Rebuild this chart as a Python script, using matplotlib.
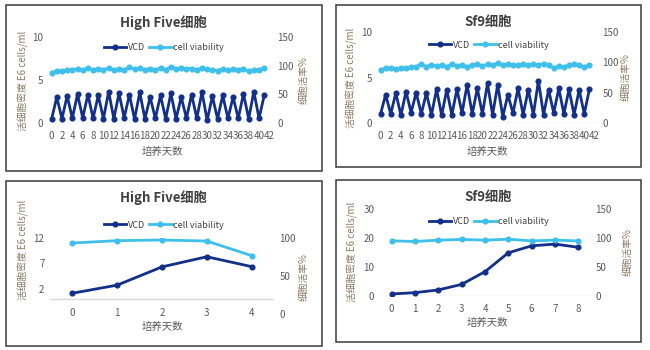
import matplotlib.pyplot as plt
from matplotlib.patches import Rectangle
from matplotlib.lines import Line2D

plt.rcParams['font.family'] = ['Noto Sans CJK SC', 'DejaVu Sans']

W, H = 650, 350

# --- data ---
days_long = list(range(42))
hf_vcd_long = [0.46, 3.0, 0.5, 3.15, 0.55, 3.35, 0.6, 3.3, 0.55, 3.2, 0.5, 3.65, 0.5, 3.45,
               0.6, 3.3, 0.46, 3.55, 0.5, 3.0, 0.55, 3.2, 0.5, 3.45, 0.5, 3.0, 0.55, 3.3,
               0.55, 3.6, 0.3, 3.1, 0.5, 3.2, 0.55, 3.0, 0.55, 3.4, 0.5, 3.65, 0.55, 3.2]
hf_via_long = [88, 91, 90, 93, 92, 95, 92, 96, 93, 95, 93, 96, 92, 95, 93, 97, 94, 96, 93, 95, 93,
               96, 93, 98, 95, 96, 95, 95, 93, 96, 94, 93, 91, 95, 92, 94, 93, 95, 90, 92, 93, 96]
sf_vcd_long = [1.0, 3.1, 1.0, 3.3, 0.85, 3.45, 1.15, 3.35, 1.0, 3.3, 0.9, 3.7, 0.85, 3.65,
               0.9, 3.7, 1.1, 4.2, 1.0, 3.8, 1.0, 4.35, 0.9, 4.2, 0.7, 3.1, 1.1, 3.8,
               0.9, 3.65, 0.9, 4.65, 0.9, 3.65, 1.1, 3.8, 1.0, 3.7, 0.9, 3.65, 1.0, 3.7]
sf_via_long = [88, 90, 91, 89, 90, 91, 92, 93, 97, 93, 96, 94, 96, 93, 97, 94, 96, 93, 95, 97, 94,
               97, 95, 99, 95, 97, 96, 95, 97, 96, 97, 96, 98, 95, 91, 94, 92, 96, 97, 95, 93, 95]

hf_days = [0, 1, 2, 3, 4]
hf_vcd = [1.1, 2.7, 6.3, 8.3, 6.35]
hf_via = [93.4, 96.5, 97.4, 96.0, 76.8]

sf_days = [0, 1, 2, 3, 4, 5, 6, 7, 8]
sf_vcd = [0.7, 1.15, 2.1, 4.0, 8.4, 14.9, 17.3, 17.9, 16.8]
sf_via = [95.1, 94.0, 96.3, 97.5, 96.3, 98.0, 95.0, 96.3, 95.0]

VCD_C = '#12308a'
VIA_C = '#3fc0ea'
TICK_C = '#595959'
YLAB_C = '#8c7a66'


def frac(x0, y0, x1, y1):
    return [x0 / W, 1 - y1 / H, (x1 - x0) / W, (y1 - y0) / H]


def ftext(x, y, s, **kw):
    fig.text(x / W, 1 - y / H, s, ha='center', va='center', **kw)


def panel(box, area, x, vcd, via, xlim, xticks, ylim, yticks, rlim, rticks,
          title, title_xy, leg_xy, ylab_xy, rlab_xy, xlab_xy, xpad=6):
    fig.patches.append(Rectangle((box[0] / W, 1 - box[3] / H),
                                 (box[2] - box[0]) / W, (box[3] - box[1]) / H,
                                 transform=fig.transFigure, fill=False,
                                 ec='#3a3a3a', lw=1.1))
    ax = fig.add_axes(frac(*area))
    bx = ax.twinx()
    ax.plot(x, vcd, color=VCD_C, lw=2, marker='o', ms=3.4)
    bx.plot(x, via, color=VIA_C, lw=2, marker='o', ms=3.4)
    ax.axhline(0, color='#d9d9d9', lw=1, zorder=0)
    ax.set_xlim(*xlim)
    ax.set_xticks(xticks)
    ax.set_ylim(*ylim)
    ax.set_yticks(yticks)
    bx.set_ylim(*rlim)
    bx.set_yticks(rticks)
    for a in (ax, bx):
        for sp in a.spines.values():
            sp.set_visible(False)
        a.tick_params(length=0, labelsize=7, colors=TICK_C, pad=4)
    ax.tick_params(axis='x', pad=xpad)
    ax.patch.set_visible(False)
    ftext(*title_xy, title, fontsize=9.5, fontweight='bold', color='#404040')
    ftext(*ylab_xy, '活细胞密度 E6 cells/ml', fontsize=7, color=YLAB_C, rotation=90)
    ftext(*rlab_xy, '细胞活率%', fontsize=7, color=YLAB_C, rotation=90)
    ftext(*xlab_xy, '培养天数', fontsize=7.5, color=TICK_C)
    handles = [Line2D([], [], color=VCD_C, lw=2, marker='o', ms=3.4),
               Line2D([], [], color=VIA_C, lw=2, marker='o', ms=3.4)]
    fig.legend(handles, ['VCD', 'cell viability'], loc='center', ncol=2,
               bbox_to_anchor=(leg_xy[0] / W, 1 - leg_xy[1] / H),
               frameon=False, fontsize=6.5, handlelength=2.5, handletextpad=0.2,
               columnspacing=0.4, labelcolor='#404040', borderpad=0)


fig = plt.figure(figsize=(W / 100, H / 100), dpi=100)
fig.patch.set_facecolor('white')

panel((6, 5, 322, 171), (49, 37, 272, 123), days_long, hf_vcd_long, hf_via_long,
      (-0.5, 42.5), list(range(0, 43, 2)), (0, 10), [0, 5, 10], (0, 150), [0, 50, 100, 150],
      'High Five细胞', (163, 23), (164, 48), (23, 81), (304, 80), (162, 152))
panel((336, 5, 641, 167), (378, 32, 597, 123), days_long, sf_vcd_long, sf_via_long,
      (-0.5, 42.5), list(range(0, 43, 2)), (0, 10), [0, 5, 10], (0, 150), [0, 50, 100, 150],
      'Sf9细胞', (488, 22), (489, 45), (351, 78), (626, 77), (487, 152))
panel((6, 181, 322, 346), (50, 238, 274, 314), hf_days, hf_vcd, hf_via,
      (-0.5, 4.5), hf_days, (-3, 12), [2, 7, 12], (0, 100), [0, 50, 100],
      'High Five细胞', (163, 198), (164, 225), (23, 250), (304, 277), (162, 327), xpad=-4)
panel((336, 180, 641, 342), (380, 209, 590, 296), sf_days, sf_vcd, sf_via,
      (-0.5, 8.5), sf_days, (0, 30), [0, 10, 20, 30], (0, 150), [0, 50, 100, 150],
      'Sf9细胞', (488, 197), (489, 222), (352, 252), (628, 252), (487, 323))

fig.savefig('out.png', dpi=100)
